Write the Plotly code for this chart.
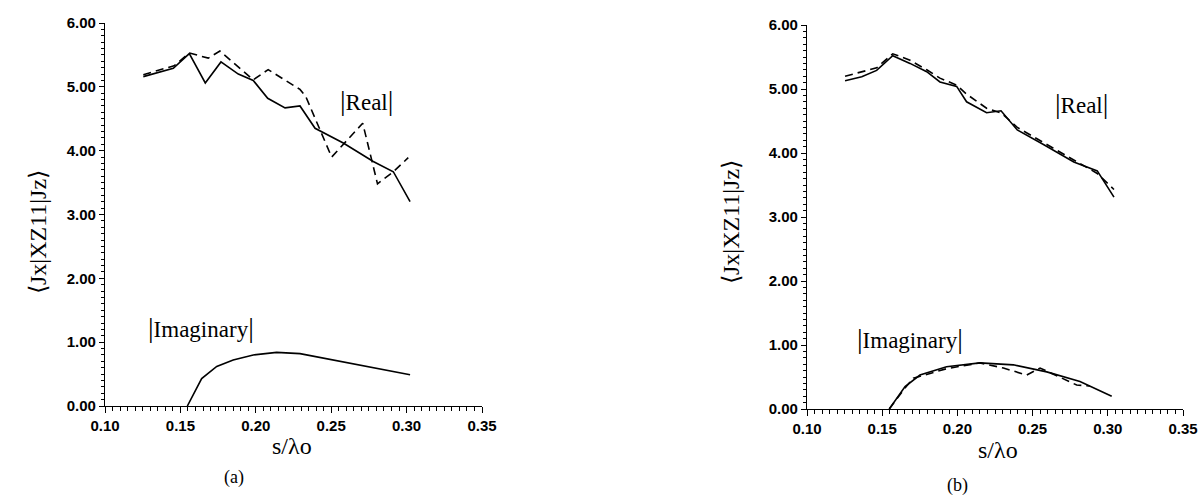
import plotly.graph_objects as go

# ---- data ----
# Panel (a)
a_real_solid_x = [0.1254, 0.1453, 0.1559, 0.1665, 0.1769, 0.1884, 0.1983, 0.2079, 0.2194, 0.2293, 0.2393, 0.2580, 0.2779, 0.2912, 0.3023]
a_real_solid_y = [5.16, 5.29, 5.52, 5.06, 5.39, 5.20, 5.10, 4.82, 4.67, 4.70, 4.35, 4.12, 3.83, 3.67, 3.20]
a_real_dash_x = [0.1254, 0.1458, 0.1559, 0.1685, 0.1762, 0.1983, 0.2082, 0.2293, 0.2331, 0.2503, 0.2709, 0.2807, 0.2912, 0.3011]
a_real_dash_y = [5.19, 5.33, 5.53, 5.45, 5.56, 5.11, 5.27, 4.96, 4.85, 3.90, 4.43, 3.48, 3.67, 3.89]
a_imag_x = [0.1546, 0.1641, 0.1741, 0.1850, 0.1983, 0.2138, 0.2293, 0.2514, 0.2735, 0.2956, 0.3023]
a_imag_y = [0.00, 0.43, 0.62, 0.72, 0.80, 0.84, 0.82, 0.72, 0.62, 0.51, 0.49]

# Panel (b)
b_real_solid_x = [0.1253, 0.1364, 0.1463, 0.1570, 0.1685, 0.1796, 0.1884, 0.1995, 0.2061, 0.2194, 0.2290, 0.2398, 0.2575, 0.2774, 0.2930, 0.3041]
b_real_solid_y = [5.13, 5.19, 5.29, 5.52, 5.40, 5.27, 5.11, 5.04, 4.80, 4.63, 4.66, 4.36, 4.13, 3.86, 3.72, 3.31]
b_real_dash_x = [0.1253, 0.1463, 0.1570, 0.1685, 0.1796, 0.1884, 0.1995, 0.2061, 0.2194, 0.2295, 0.2398, 0.2575, 0.2774, 0.2930, 0.3041]
b_real_dash_y = [5.20, 5.33, 5.55, 5.45, 5.30, 5.17, 5.06, 4.92, 4.70, 4.62, 4.40, 4.16, 3.88, 3.68, 3.43]
b_imag_solid_x = [0.1547, 0.1652, 0.1751, 0.1928, 0.2150, 0.2372, 0.2594, 0.2815, 0.3026]
b_imag_solid_y = [0.00, 0.35, 0.53, 0.66, 0.72, 0.69, 0.58, 0.43, 0.20]
b_imag_dash_x = [0.1547, 0.1652, 0.1707, 0.1928, 0.2150, 0.2306, 0.2461, 0.2550, 0.2793, 0.2881]
b_imag_dash_y = [0.00, 0.33, 0.48, 0.63, 0.72, 0.64, 0.53, 0.64, 0.375, 0.36]

x_ticks = [0.10, 0.15, 0.20, 0.25, 0.30, 0.35]
x_tick_labels = ["0.10", "0.15", "0.20", "0.25", "0.30", "0.35"]
y_ticks = [0, 1, 2, 3, 4, 5, 6]
y_tick_labels = ["0.00", "1.00", "2.00", "3.00", "4.00", "5.00", "6.00"]

y_title = "⟨Jx|XZ11|Jz⟩"
x_title = "s/λo"

# ---- figure ----
fig = go.Figure()
solid = dict(color="black", width=1.6)
dashed = dict(color="black", width=1.6, dash="8px,5px")

fig.add_trace(go.Scatter(x=a_real_solid_x, y=a_real_solid_y, mode="lines", line=solid, xaxis="x", yaxis="y"))
fig.add_trace(go.Scatter(x=a_real_dash_x, y=a_real_dash_y, mode="lines", line=dashed, xaxis="x", yaxis="y"))
fig.add_trace(go.Scatter(x=a_imag_x, y=a_imag_y, mode="lines", line=solid, xaxis="x", yaxis="y"))

fig.add_trace(go.Scatter(x=b_real_solid_x, y=b_real_solid_y, mode="lines", line=solid, xaxis="x2", yaxis="y2"))
fig.add_trace(go.Scatter(x=b_real_dash_x, y=b_real_dash_y, mode="lines", line=dashed, xaxis="x2", yaxis="y2"))
fig.add_trace(go.Scatter(x=b_imag_solid_x, y=b_imag_solid_y, mode="lines", line=solid, xaxis="x2", yaxis="y2"))
fig.add_trace(go.Scatter(x=b_imag_dash_x, y=b_imag_dash_y, mode="lines", line=dashed, xaxis="x2", yaxis="y2"))

W, H = 1200, 498
tickfont = dict(family="Liberation Sans, Arial, sans-serif", size=15, color="black", weight="bold")

def xaxis(domain, anchor):
    return dict(domain=domain, anchor=anchor, range=[0.10, 0.35], tickvals=x_ticks, ticktext=x_tick_labels,
                showgrid=False, zeroline=False, showline=True, linecolor="black", linewidth=1.2,
                ticks="outside", ticklen=6, tickwidth=1, tickcolor="black", tickfont=tickfont,
                minor=dict(dtick=0.005, tick0=0.10, ticks="outside", ticklen=4, tickwidth=1, tickcolor="black", showgrid=False),
                automargin=False, fixedrange=True)

def yaxis(domain, anchor):
    return dict(domain=domain, anchor=anchor, range=[0, 6], tickvals=y_ticks, ticktext=y_tick_labels,
                showgrid=False, zeroline=False, showline=True, linecolor="black", linewidth=1.2,
                ticks="outside", ticklen=5, tickwidth=1, tickcolor="black", tickfont=tickfont,
                minor=dict(dtick=0.1, tick0=0, ticks="outside", ticklen=3, tickwidth=1, tickcolor="black", showgrid=False),
                automargin=False, fixedrange=True)

fig.update_layout(
    width=W, height=H,
    margin=dict(l=0, r=0, t=0, b=0, autoexpand=False),
    paper_bgcolor="white", plot_bgcolor="white",
    showlegend=False,
    xaxis=xaxis([105 / W, 482 / W], "y"),
    yaxis=yaxis([1 - 406 / H, 1 - 23 / H], "x"),
    xaxis2=xaxis([807 / W, 1183 / W], "y2"),
    yaxis2=yaxis([1 - 409 / H, 1 - 25 / H], "x2"),
)

serif = "Liberation Serif, Times New Roman, serif"

def ann(text, px, py, size, angle=0):
    fig.add_annotation(text=text, x=px / W, y=1 - py / H, xref="paper", yref="paper",
                       showarrow=False, textangle=angle, xanchor="center", yanchor="middle",
                       font=dict(family=serif, size=size, color="black"))

bar = '<span style="font-size:28px">|</span>'
ann(bar + "Real" + bar, 366, 100, 23)
ann(bar + "Imaginary" + bar, 201, 327, 23)
ann(bar + "Real" + bar, 1081, 103, 23)
ann(bar + "Imaginary" + bar, 910, 338, 23)

ann(y_title, 38, 232, 24, -90)
ann(y_title, 731, 222, 24, -90)

ann(x_title, 292, 446, 24)
ann(x_title, 998, 450, 24)

ann("(a)", 234, 477, 18)
ann("(b)", 957, 485, 18)

fig.write_html("out.html", config={"displayModeBar": False},
               post_script="document.body.style.margin='0px';document.body.style.overflow='hidden';")
